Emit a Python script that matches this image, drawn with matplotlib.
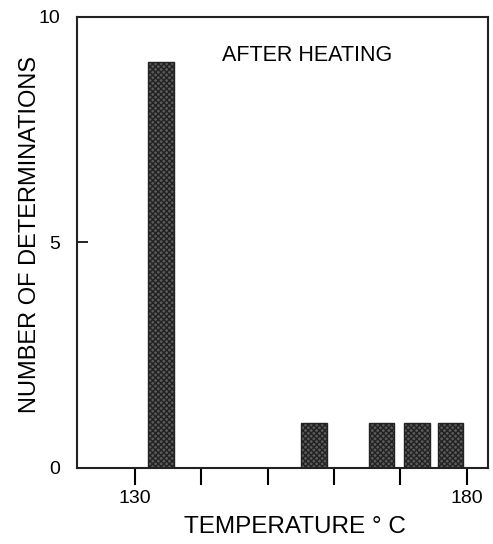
import matplotlib
matplotlib.use("Agg")
import matplotlib.pyplot as plt

plt.rcParams['font.family'] = ['Liberation Sans', 'DejaVu Sans']
plt.rcParams['hatch.linewidth'] = 1.0
plt.rcParams['hatch.color'] = '#1a1a1a'

bar_left = [132.0, 155.1, 165.2, 170.6, 175.6]
bar_width = [3.9, 3.9, 3.9, 3.9, 3.9]
counts = [9, 1, 1, 1, 1]
x_ticks = [130, 140, 150, 160, 170, 180]
x_tick_labels = ['130', '', '', '', '', '180']
y_ticks = [0, 5, 10]

fig = plt.figure(figsize=(4.93, 5.44), dpi=100)
ax = fig.add_axes([0.156, 0.140, 0.834, 0.829])

ax.bar(bar_left, counts, width=bar_width, align='edge',
       facecolor='#5a5a5a', edgecolor='#222222', linewidth=1.0, hatch='xxxxxx')

ax.set_xlim(121.3, 183.2)
ax.set_ylim(0, 10)
ax.set_xticks(x_ticks)
ax.set_xticklabels(x_tick_labels, fontsize=14)
ax.set_yticks(y_ticks)
ax.set_yticklabels([str(v) for v in y_ticks], fontsize=14)
ax.tick_params(axis='x', direction='out', length=12, width=1.5, pad=4)
ax.tick_params(axis='y', direction='in', length=8, width=1.2, pad=12)
for s in ax.spines.values():
    s.set_linewidth(1.5)
    s.set_color('#222222')

ax.text(156.0, 9.15, 'AFTER HEATING', ha='center', va='center', fontsize=15.5)
ax.set_xlabel('TEMPERATURE ° C', fontsize=17.5)
ax.set_ylabel('NUMBER OF DETERMINATIONS', fontsize=17)
ax.xaxis.set_label_coords(0.53, -0.107)
ax.yaxis.set_label_coords(-0.088, 0.517)

fig.savefig('out.png', dpi=100)
